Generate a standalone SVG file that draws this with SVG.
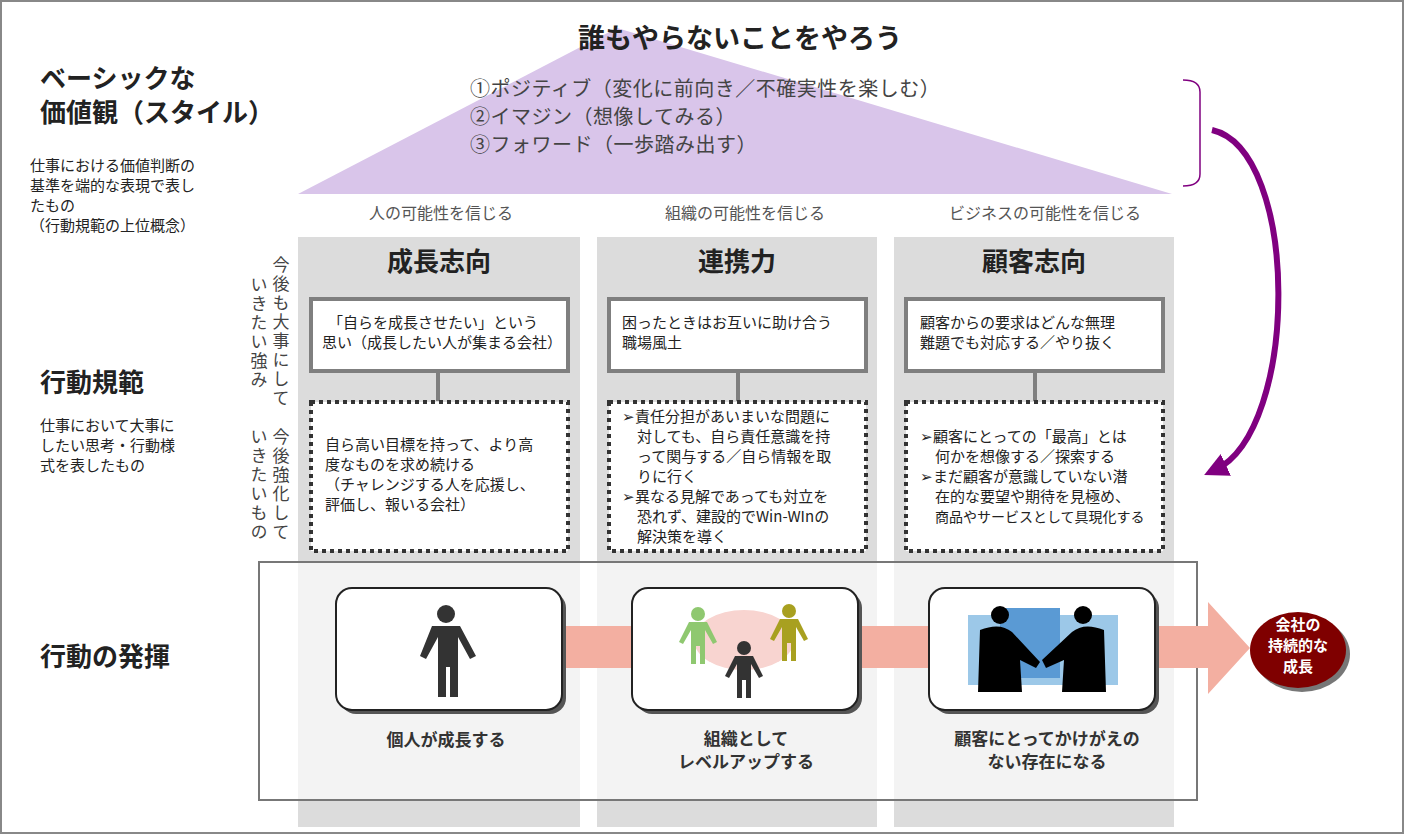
<svg xmlns="http://www.w3.org/2000/svg" width="1404" height="834" viewBox="0 0 1404 834">
<defs>
<style>
text{font-family:"Noto Sans CJK JP","Noto Sans",sans-serif;fill:#222}
.h{font-size:26px;font-weight:bold}
.s{font-size:15px}
.m{font-size:20px;fill:#444;letter-spacing:0.5px}
.col{fill:#dcdcdc}
.sb{fill:#fff;stroke:#7f7f7f;stroke-width:4}
.db{fill:#fff;stroke:#333;stroke-width:4;stroke-dasharray:4 4}
.ib{fill:#fff;stroke:#222;stroke-width:2}
.sh{fill:#555}
.lbl{font-size:17px;font-weight:bold;fill:#333;text-anchor:middle}
.v{writing-mode:vertical-rl;font-size:17px;fill:#444;letter-spacing:2px}
</style>
<marker id="ah" viewBox="0 0 10 10" refX="5" refY="5" markerWidth="4" markerHeight="4" orient="auto"><path d="M0,0L10,5L0,10z" fill="#800080"/></marker>
</defs>
<rect x="1" y="1" width="1402" height="832" fill="#fff" stroke="#888" stroke-width="2"/>
<g id="roof">
<polygon points="617,28 298,194 1172,194" fill="#d9c5ea"/>
<text x="740" y="48" font-size="27" font-weight="bold" text-anchor="middle">誰もやらないことをやろう</text>
<text x="470" y="96" class="m">①ポジティブ（変化に前向き／不確実性を楽しむ）</text>
<text x="470" y="124" class="m">②イマジン（想像してみる）</text>
<text x="470" y="152" class="m">③フォワード（一歩踏み出す）</text>
</g>
<g id="left">
<text x="40" y="88" class="h">ベーシックな</text>
<text x="40" y="122" class="h">価値観（スタイル）</text>
<text x="30" y="171" class="s">仕事における価値判断の</text>
<text x="30" y="191" class="s">基準を端的な表現で表し</text>
<text x="30" y="211" class="s">たもの</text>
<text x="30" y="231" class="s">（行動規範の上位概念）</text>
<text x="40" y="392" class="h">行動規範</text>
<text x="40" y="431" class="s">仕事において大事に</text>
<text x="40" y="451" class="s">したい思考・行動様</text>
<text x="40" y="471" class="s">式を表したもの</text>
<text x="40" y="666" class="h">行動の発揮</text>
<text x="281" y="256" class="v">今後も大事にして</text>
<text x="259" y="276" class="v">いきたい強み</text>
<text x="281" y="428" class="v">今後強化して</text>
<text x="259" y="428" class="v">いきたいもの</text>
</g>
<g id="columns">
<rect class="col" x="298" y="237" width="282" height="590"/>
<rect class="col" x="597" y="237" width="280" height="590"/>
<rect class="col" x="894" y="237" width="280" height="590"/>
<text x="441" y="219" font-size="16" text-anchor="middle" style="fill:#555">人の可能性を信じる</text>
<text x="745" y="219" font-size="16" text-anchor="middle" style="fill:#555">組織の可能性を信じる</text>
<text x="1045" y="219" font-size="16" text-anchor="middle" style="fill:#555">ビジネスの可能性を信じる</text>
<text x="439" y="271" class="h" text-anchor="middle">成長志向</text>
<text x="737" y="271" class="h" text-anchor="middle">連携力</text>
<text x="1034" y="271" class="h" text-anchor="middle">顧客志向</text>
</g>
<g id="connectors" stroke="#7f7f7f" stroke-width="4">
<line x1="438" y1="372" x2="438" y2="401"/>
<line x1="738" y1="372" x2="738" y2="401"/>
<line x1="1035" y1="372" x2="1035" y2="401"/>
<path d="M1183,80 Q1200,80 1200,92 L1200,174 Q1200,186 1183,186" fill="none" stroke="#800080" stroke-width="1.5"/>
<path d="M1212,130 C1300,150 1300,430 1215,470" fill="none" stroke="#800080" stroke-width="6" marker-end="url(#ah)"/>
</g>
<g id="n1">
<rect class="sb" x="311" y="299" width="257" height="72"/>
<text x="328" y="328" class="s">「自らを成長させたい」という</text>
<text x="322" y="348" class="s">思い（成長したい人が集まる会社）</text>
<rect class="db" x="311" y="402" width="257" height="149"/>
<text x="325" y="450" class="s">自ら高い目標を持って、より高</text>
<text x="325" y="470" class="s">度なものを求め続ける</text>
<text x="325" y="490" class="s">（チャレンジする人を応援し、</text>
<text x="325" y="510" class="s">評価し、報いる会社）</text>
</g>
<g id="n2">
<rect class="sb" x="609" y="299" width="257" height="72"/>
<text x="622" y="328" class="s">困ったときはお互いに助け合う</text>
<text x="622" y="348" class="s">職場風土</text>
<rect class="db" x="609" y="402" width="257" height="149"/>
<text x="622" y="422" class="s">➢責任分担があいまいな問題に</text>
<text x="637" y="442" class="s">対しても、自ら責任意識を持</text>
<text x="637" y="462" class="s">って関与する／自ら情報を取</text>
<text x="637" y="482" class="s">りに行く</text>
<text x="622" y="502" class="s">➢異なる見解であっても対立を</text>
<text x="637" y="522" class="s">恐れず、建設的でWin-WInの</text>
<text x="637" y="542" class="s">解決策を導く</text>
</g>
<g id="n3">
<rect class="sb" x="906" y="299" width="257" height="72"/>
<text x="920" y="328" class="s">顧客からの要求はどんな無理</text>
<text x="920" y="348" class="s">難題でも対応する／やり抜く</text>
<rect class="db" x="906" y="402" width="257" height="149"/>
<text x="920" y="442" class="s">➢顧客にとっての「最高」とは</text>
<text x="935" y="462" class="s">何かを想像する／探索する</text>
<text x="920" y="482" class="s">➢まだ顧客が意識していない潜</text>
<text x="935" y="502" class="s">在的な要望や期待を見極め、</text>
<text x="935" y="522" class="s" style="font-size:14px">商品やサービスとして具現化する</text>
</g>
<g id="frame">
<rect x="259" y="562" width="938" height="238" fill="#fff" fill-opacity="0.65" stroke="#777" stroke-width="2"/>
<polygon points="560,626 1208,626 1208,602 1250,648 1208,694 1208,668 560,668" fill="#f3afa1"/>
</g>
<g id="i1">
<rect class="sh" x="340" y="592" width="226" height="122" rx="16"/>
<rect class="ib" x="336" y="588" width="226" height="122" rx="16"/>
<circle cx="446" cy="614" r="9" fill="#333"/>
<path d="M432,626 h28 l16,30 -6,3 -12,-22 v60 h-8 v-30 h-4 v30 h-8 v-60 l-12,22 -6,-3z" fill="#333"/>
<text x="446" y="746" class="lbl">個人が成長する</text>
</g>
<g id="i2">
<rect class="sh" x="636" y="592" width="226" height="122" rx="16"/>
<rect class="ib" x="632" y="588" width="226" height="122" rx="16"/>
<ellipse cx="744" cy="640" rx="50" ry="30" fill="#f8d4d0"/>
<circle cx="698" cy="614" r="7" fill="#8fc870"/>
<path d="M689,622 h18 l10,20 -4,2 -8,-14 v34 h-5 v-18 h-4 v18 h-5 v-34 l-8,14 -4,-2z" fill="#8fc870"/>
<circle cx="789" cy="611" r="7" fill="#a8a020"/>
<path d="M780,619 h18 l10,20 -4,2 -8,-14 v34 h-5 v-18 h-4 v18 h-5 v-34 l-8,14 -4,-2z" fill="#a8a020"/>
<circle cx="744" cy="648" r="7" fill="#333"/>
<path d="M735,656 h18 l10,20 -4,2 -8,-14 v34 h-5 v-18 h-4 v18 h-5 v-34 l-8,14 -4,-2z" fill="#333"/>
<text x="746" y="745" class="lbl">組織として</text>
<text x="746" y="768" class="lbl">レベルアップする</text>
</g>
<g id="i3">
<rect class="sh" x="933" y="592" width="226" height="122" rx="16"/>
<rect class="ib" x="929" y="588" width="226" height="122" rx="16"/>
<rect x="968" y="615" width="150" height="70" fill="#9cc8e8"/>
<rect x="1000" y="608" width="60" height="70" fill="#5a9ad4"/>
<circle cx="1000" cy="615" r="9" fill="#000"/>
<path d="M980,630 Q1000,622 1012,632 L1040,662 1036,668 1020,660 1022,692 978,692z" fill="#000"/>
<circle cx="1083" cy="615" r="9" fill="#000"/>
<path d="M1104,630 Q1084,622 1072,632 L1042,660 1046,668 1064,660 1062,692 1106,692z" fill="#000"/>
<text x="1047" y="745" class="lbl">顧客にとってかけがえの</text>
<text x="1047" y="768" class="lbl">ない存在になる</text>
</g>
<g id="goal">
<ellipse cx="1302" cy="654" rx="48" ry="38" fill="#777"/>
<ellipse cx="1298" cy="650" rx="48" ry="38" fill="#7f0000"/>
<text x="1298" y="630" font-size="15" font-weight="bold" text-anchor="middle" style="fill:#fff">会社の</text>
<text x="1298" y="651" font-size="15" font-weight="bold" text-anchor="middle" style="fill:#fff">持続的な</text>
<text x="1298" y="672" font-size="15" font-weight="bold" text-anchor="middle" style="fill:#fff">成長</text>
</g>
</svg>
